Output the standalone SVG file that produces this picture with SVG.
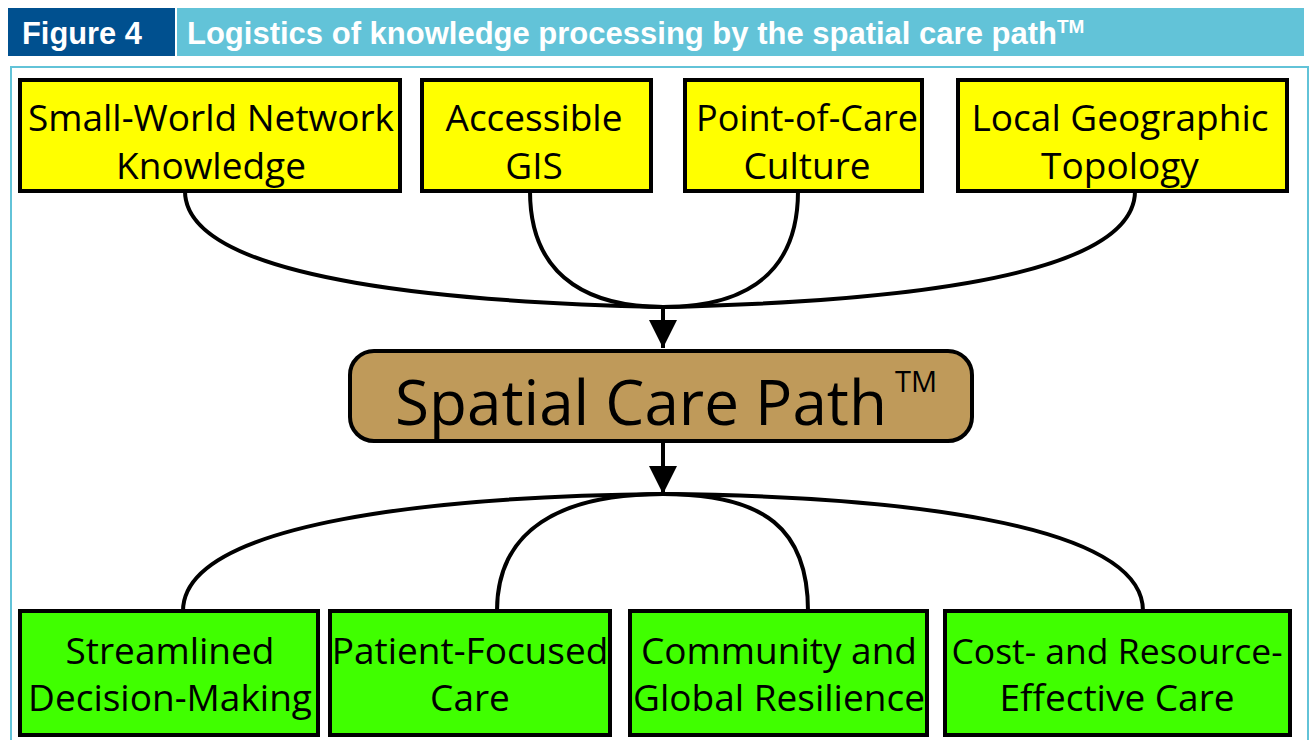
<svg xmlns="http://www.w3.org/2000/svg" width="1312" height="740" viewBox="0 0 1312 740">
<defs>
<style>
.hdr{font-family:"Liberation Sans",Arial,sans-serif;font-weight:bold;fill:#fff;font-size:31px}
.box{stroke:#000;stroke-width:4}
.yl{fill:#ffff00}
.gr{fill:#40ff00}
.t{font-family:"Open Sans","Noto Sans",sans-serif;font-size:37px;fill:#000;text-anchor:middle}
.big{font-family:"Open Sans","Noto Sans",sans-serif;font-size:62px;fill:#000}
.c{fill:none;stroke:#000;stroke-width:4}
</style>
<marker id="ah" viewBox="0 0 10 10" refX="10" refY="5" markerWidth="7" markerHeight="7" markerUnits="strokeWidth" orient="auto">
<path d="M0,0 L10,5 L0,10 z" fill="#000"/>
</marker>
</defs>
<rect width="1312" height="740" fill="#fff"/>
<g id="header">
<rect x="8" y="8" width="167" height="48" fill="#00508f"/>
<rect x="177" y="8" width="1127" height="48" fill="#62c3d8"/>
<text class="hdr" x="22" y="44" textLength="120" lengthAdjust="spacingAndGlyphs">Figure 4</text>
<text class="hdr" x="187" y="44">Logistics of knowledge processing by the spatial care path<tspan style="font-size:19px" dy="-11">TM</tspan></text>
</g>
<rect x="11" y="67" width="1297" height="680" fill="none" stroke="#62c3d8" stroke-width="2"/>
<g id="connectors">
<path class="c" d="M185,191 C185,285 480,303 663,307"/>
<path class="c" d="M530,191 C530,285 600,307 663,307"/>
<path class="c" d="M798,191 C798,285 730,307 663,307"/>
<path class="c" d="M1135,191 C1135,285 850,303 663,307"/>
<path class="c" d="M663,307 L663,348" marker-end="url(#ah)"/>
<path class="c" d="M663,441 L663,494" marker-end="url(#ah)"/>
<path class="c" d="M183,611 C183,520 450,496 663,494"/>
<path class="c" d="M497,611 C497,530 560,494 663,494"/>
<path class="c" d="M808,611 C808,530 766,494 663,494"/>
<path class="c" d="M1143,611 C1143,520 880,496 663,494"/>
</g>
<g id="n1"><rect class="box yl" x="20" y="80" width="380" height="111"/><text class="t" x="211" y="131">Small-World Network</text><text class="t" x="211" y="179">Knowledge</text></g>
<g id="n2"><rect class="box yl" x="422" y="80" width="229" height="111"/><text class="t" x="534" y="131">Accessible</text><text class="t" x="534" y="179">GIS</text></g>
<g id="n3"><rect class="box yl" x="685" y="80" width="237" height="111"/><text class="t" x="807" y="131" style="font-size:36px">Point-of-Care</text><text class="t" x="807" y="179">Culture</text></g>
<g id="n4"><rect class="box yl" x="958" y="80" width="329" height="111"/><text class="t" x="1120" y="131">Local Geographic</text><text class="t" x="1120" y="179">Topology</text></g>
<g id="center"><rect class="box" x="350" y="351" width="622" height="90" rx="24" fill="#bf9a5a"/><text class="big" x="395" y="425">Spatial Care Path</text><text x="895" y="392" font-family="Open Sans,Noto Sans,sans-serif" font-size="29">TM</text></g>
<g id="o1"><rect class="box gr" x="20" y="611" width="298" height="124"/><text class="t" x="170" y="664">Streamlined</text><text class="t" x="170" y="711">Decision-Making</text></g>
<g id="o2"><rect class="box gr" x="330" y="611" width="280" height="124"/><text class="t" x="470" y="664">Patient-Focused</text><text class="t" x="470" y="711">Care</text></g>
<g id="o3"><rect class="box gr" x="630" y="611" width="297" height="124"/><text class="t" x="779" y="664">Community and</text><text class="t" x="779" y="711">Global Resilience</text></g>
<g id="o4"><rect class="box gr" x="945" y="611" width="345" height="124"/><text class="t" x="1117" y="664" style="font-size:35.5px">Cost- and Resource-</text><text class="t" x="1117" y="711">Effective Care</text></g>
</svg>
